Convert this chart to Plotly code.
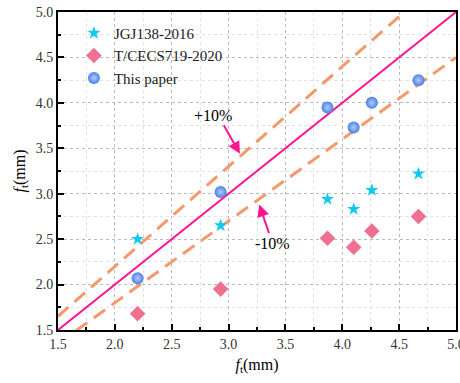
import plotly.graph_objects as go

x_vals = [2.20, 2.93, 3.87, 4.10, 4.26, 4.67]
jgj = [2.50, 2.65, 2.94, 2.83, 3.04, 3.22]
cecs = [1.68, 1.95, 2.51, 2.41, 2.59, 2.75]
paper = [2.07, 3.02, 3.95, 3.73, 4.00, 4.25]
line_x = [1.5, 5.0]
ratio_up = 1.1
ratio_dn = 0.9
tick_vals = [1.5, 2.0, 2.5, 3.0, 3.5, 4.0, 4.5, 5.0]
tick_text = ["1.5", "2.0", "2.5", "3.0", "3.5", "4.0", "4.5", "5.0"]

font = "Liberation Serif"
fig = go.Figure()

fig.add_trace(go.Scatter(x=line_x, y=[v * ratio_up for v in line_x], mode="lines",
                         line=dict(color="#F4996A", width=3, dash="14px,8px"), showlegend=False))
fig.add_trace(go.Scatter(x=line_x, y=[v * ratio_dn for v in line_x], mode="lines",
                         line=dict(color="#F4996A", width=3, dash="14px,8px"), showlegend=False))
fig.add_trace(go.Scatter(x=line_x, y=line_x, mode="lines",
                         line=dict(color="#FF1493", width=2), showlegend=False))

fig.add_trace(go.Scatter(x=x_vals, y=jgj, mode="markers", name="JGJ138-2016",
                         marker=dict(symbol="star", size=10, color="#12C8F0", line=dict(width=0))))
fig.add_trace(go.Scatter(x=x_vals, y=cecs, mode="markers", name="T/CECS719-2020",
                         marker=dict(symbol="diamond", size=12, color="#F0708F", line=dict(width=0))))
fig.add_trace(go.Scatter(x=x_vals, y=paper, mode="markers", name="This paper",
                         marker=dict(symbol="circle", size=12, color="#4A80E6",
                                     gradient=dict(type="radial", color="#B4CCFF"),
                                     line=dict(width=0))))

fig.add_annotation(x=3.10, y=3.44, ax=2.95, ay=3.77, xref="x", yref="y", axref="x", ayref="y",
                   text="", showarrow=True, arrowhead=2, arrowsize=1.2, arrowwidth=2, arrowcolor="#FF1493")
fig.add_annotation(x=2.86, y=3.86, text="+10%", showarrow=False, font=dict(family=font, size=16, color="black"))
fig.add_annotation(x=3.27, y=2.88, ax=3.36, ay=2.55, xref="x", yref="y", axref="x", ayref="y",
                   text="", showarrow=True, arrowhead=2, arrowsize=1.2, arrowwidth=2, arrowcolor="#FF1493")
fig.add_annotation(x=3.39, y=2.45, text="-10%", showarrow=False, font=dict(family=font, size=16, color="black"))

axis_common = dict(range=[1.5, 5.0], tickmode="array", tickvals=tick_vals, ticktext=tick_text,
                   ticklabeloverflow="allow", automargin=False,
                   showline=True, linecolor="black", linewidth=2, mirror=True,
                   ticks="inside", ticklen=6, tickwidth=2, tickcolor="black",
                   showgrid=True, gridcolor="#BBBBBB", griddash="dot", gridwidth=1,
                   zeroline=False, tickfont=dict(family=font, size=14, color="#333333"),
                   minor=dict(dtick=0.25, tick0=1.5, ticks="inside", ticklen=3, tickwidth=1.5, tickcolor="black",
                              showgrid=True, gridcolor="#E2E2E2", griddash="dot", gridwidth=1))

fig.update_xaxes(**axis_common, title=dict(text="<i>f</i><sub>t</sub>(mm)", font=dict(family=font, size=16, color="black"), standoff=8))
fig.update_yaxes(**axis_common, title=dict(text="<i>f</i><sub>t</sub>(mm)", font=dict(family=font, size=16, color="black"), standoff=6))

fig.update_layout(width=460, height=383, margin=dict(l=58, r=4, t=12, b=53),
                  plot_bgcolor="white", paper_bgcolor="white",
                  legend=dict(x=0.04, y=0.985, xanchor="left", yanchor="top", bgcolor="rgba(0,0,0,0)",
                              font=dict(family=font, size=15, color="#222222"), tracegroupgap=0,
                              itemwidth=30))

fig.write_html("out.html")
